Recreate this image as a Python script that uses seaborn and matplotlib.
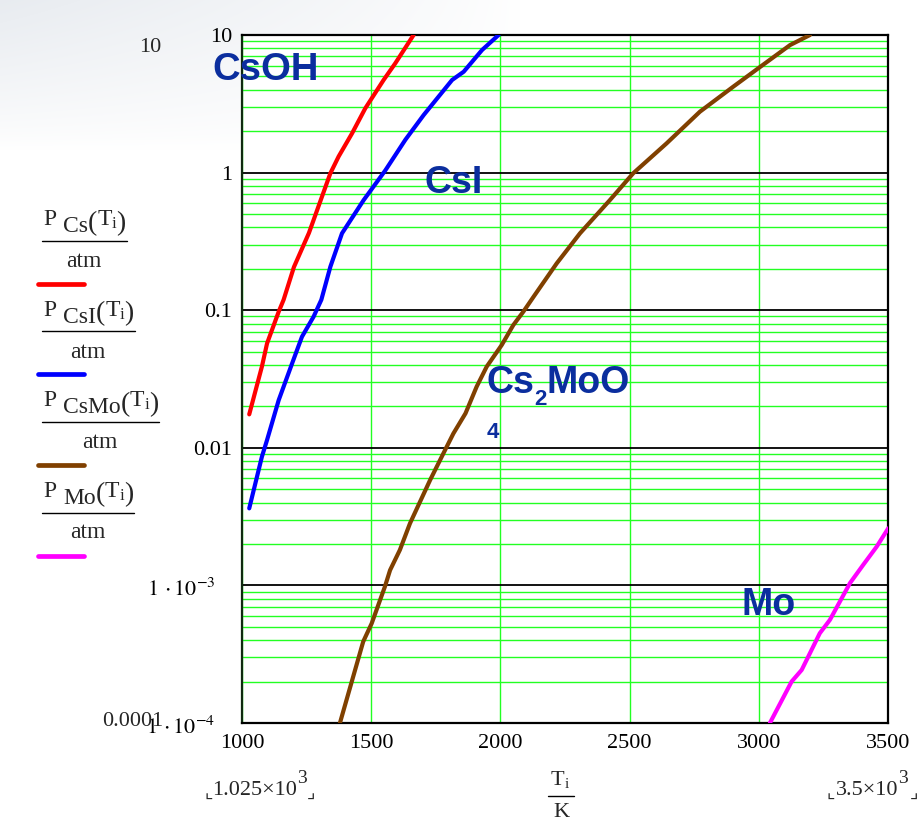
import numpy as np
import pandas as pd
import matplotlib
matplotlib.use("Agg")
import matplotlib.pyplot as plt
from matplotlib.ticker import LogLocator, FixedLocator, NullFormatter
from matplotlib.lines import Line2D
from matplotlib.transforms import ScaledTranslation
import seaborn as sns

# ---------------- data ----------------
T_CS = [1028, 1077, 1097, 1142, 1161, 1201, 1259, 1342, 1374, 1426, 1477, 1548, 1593, 1664]
P_CS = [0.0175, 0.0389, 0.0574, 0.0975, 0.119, 0.206, 0.364, 0.989, 1.31, 1.93, 2.93, 4.71, 6.22, 10.0]

T_CSI = [1028, 1077, 1097, 1142, 1194, 1232, 1277, 1307, 1342, 1387, 1471, 1555, 1632, 1703, 1813, 1858, 1929, 1993]
P_CSI = [0.00363, 0.00861, 0.0114, 0.0222, 0.0411, 0.0641, 0.0897, 0.119, 0.207, 0.362, 0.632, 1.04, 1.73, 2.62, 4.71, 5.41, 7.78, 10.0]

T_CSMO = [1379, 1469, 1502, 1553, 1573, 1611, 1650, 1728, 1786, 1818, 1865, 1908, 1947, 2005, 2050, 2089,
          2128, 2218, 2308, 2424, 2514, 2643, 2772, 2901, 2998, 3121, 3198]
P_CSMO = [1.0e-4, 3.90e-4, 5.30e-4, 9.79e-4, 1.29e-3, 1.81e-3, 2.82e-3, 5.83e-3, 9.64e-3, 0.0127, 0.0178,
          0.0278, 0.0389, 0.0558, 0.0780, 0.0977, 0.125, 0.219, 0.362, 0.632, 0.989, 1.63, 2.77, 4.21,
          5.73, 8.45, 10.0]

T_MO = [3043, 3127, 3166, 3236, 3275, 3353, 3404, 3456, 3501]
P_MO = [1.0e-4, 2.0e-4, 2.43e-4, 4.49e-4, 5.61e-4, 1.04e-3, 1.41e-3, 1.91e-3, 2.60e-3]

SERIES = ["Cs", "CsI", "CsMo", "Mo"]
COLORS = {"Cs": "#ff0000", "CsI": "#0000ff", "CsMo": "#804000", "Mo": "#ff00ff"}

X_TICKS = [1000, 1500, 2000, 2500, 3000, 3500]
X_TICK_LABELS = ["1000", "1500", "2000", "2500", "3000", "3500"]
Y_TICKS = [1e-4, 1e-3, 1e-2, 1e-1, 1, 10]
Y_TICK_LABELS = [r"$1\,\cdot 10^{-4}$", r"$1\,\cdot 10^{-3}$", "0.01", "0.1", "1", "10"]

# ---------------- styling ----------------
sns.set_theme(style="white")
plt.rcParams["font.family"] = ["Liberation Serif", "DejaVu Sans"]
plt.rcParams["mathtext.fontset"] = "stix"

W, H = 919, 822
fig = plt.figure(figsize=(W / 100, H / 100), dpi=100)
fig.patch.set_facecolor("white")

# faint slide background in the top-left corner
bg = fig.add_axes([0, 0, 1, 1], zorder=-10)
bg.axis("off")
yy, xx = np.mgrid[0:H, 0:W]
f = np.clip(1 - xx / 520.0, 0, 1) * np.clip(1 - yy / 150.0, 0, 1)
f = f ** 0.8 * 0.9
img = np.ones((H, W, 3))
base = np.array([0.90, 0.915, 0.935])
img = img * (1 - f[..., None]) + base * f[..., None]
bg.imshow(img, aspect="auto", extent=[0, 1, 0, 1], origin="upper")
bg.set_xlim(0, 1)
bg.set_ylim(0, 1)

def fx(x):
    return x / W

def fy(y):
    return 1 - y / H

ax = fig.add_axes([fx(242), fy(723), 646 / W, 688 / H])
ax.set_facecolor("white")

frames = []
for name, t, p in [("Cs", T_CS, P_CS), ("CsI", T_CSI, P_CSI), ("CsMo", T_CSMO, P_CSMO), ("Mo", T_MO, P_MO)]:
    frames.append(pd.DataFrame({"T": t, "P": p, "series": name}))
df = pd.concat(frames, ignore_index=True)

ax.set_yscale("log")
sns.lineplot(data=df, x="T", y="P", hue="series", hue_order=SERIES, palette=COLORS,
             linewidth=3.0, legend=False, ax=ax, sort=False, estimator=None, zorder=5)

ax.set_xlim(1000, 3500)
ax.set_ylim(1e-4, 10)

ax.xaxis.set_major_locator(FixedLocator(X_TICKS))
ax.set_xticklabels(X_TICK_LABELS)
ax.yaxis.set_major_locator(FixedLocator(Y_TICKS))
ax.set_yticklabels(Y_TICK_LABELS)
ax.yaxis.set_minor_locator(LogLocator(base=10, subs=np.arange(2, 10), numticks=50))
ax.yaxis.set_minor_formatter(NullFormatter())

ax.grid(which="minor", axis="y", color="#22ff22", linewidth=1.0, zorder=1)
ax.grid(which="major", axis="y", color="black", linewidth=1.3, zorder=2)
ax.grid(which="major", axis="x", color="#22ff22", linewidth=1.0, zorder=1)
ax.set_axisbelow(True)

ax.tick_params(which="both", length=0)
ax.tick_params(axis="x", labelsize=16, pad=8, labelcolor="black")
ax.tick_params(axis="y", labelsize=16, pad=7, labelcolor="black")
ax.set_xlabel("")
ax.set_ylabel("")
for s in ax.spines.values():
    s.set_color("black")
    s.set_linewidth(1.6)
    s.set_visible(True)
ax.spines["left"].set_color("#102a10")

# shift the exponent-style tick labels like the reference
for lab, val in zip(ax.get_yticklabels(), Y_TICKS):
    if val < 5e-3:
        lab.set_transform(lab.get_transform() + ScaledTranslation(-0.17, -0.02, fig.dpi_scale_trans))

renderer = fig.canvas.get_renderer()

def chain(x, y, pieces, **common):
    """pieces: (text, size, dy) placed left to right from pixel x, baseline y."""
    for s, size, dy in pieces:
        t = fig.text(fx(x), fy(y + dy), s, fontsize=size, ha="left", va="baseline", **common)
        bb = t.get_window_extent(renderer)
        x += bb.width
    return x

# extra y labels (Mathcad limits)
fig.text(fx(150), fy(48), "10", fontsize=16, ha="center", va="center")
fig.text(fx(163), fy(721), "0.0001", fontsize=16, ha="right", va="center")

# x-axis limits and label
chain(204, 795, [("\u231e", 13, 3), ("1.025\u00d710", 16, 0), ("3", 14, -12), ("\u231f", 13, 3)])
chain(827, 795, [("\u231e", 13, 3), ("3.5\u00d710", 16, 0), ("3", 14, -12)])
fig.text(fx(918), fy(798), "\u231f", fontsize=13, ha="right", va="baseline")
chain(551, 785, [("T", 16, 0), ("i", 11, 3)])
fig.add_artist(Line2D([fx(548), fx(574)], [fy(796), fy(796)], color="black", lw=1.0))
fig.text(fx(561), fy(817), "K", fontsize=16, ha="center", va="baseline")

# left legend (Mathcad style)
LEG_SUBS = ["Cs", "CsI", "CsMo", "Mo"]
for i, (sub, name) in enumerate(zip(LEG_SUBS, SERIES)):
    yb = 225 + i * 90.5
    x = chain(43, yb, [("P", 17, 0)])
    x = chain(x + 7, yb, [(sub, 17, 7), ("(", 20, 5), ("T", 17, 0), ("i", 12, 3), (")", 20, 5)])
    bar_y = yb + 16
    fig.add_artist(Line2D([fx(42), fx(x + 1)], [fy(bar_y), fy(bar_y)], color="black", lw=1.0))
    fig.text(fx((42 + x) / 2), fy(bar_y + 26), "atm", fontsize=17, ha="center", va="baseline")
    fig.add_artist(Line2D([fx(38), fx(84)], [fy(bar_y + 43), fy(bar_y + 43)],
                          color=COLORS[name], lw=3.4, solid_capstyle="round"))

# curve labels
LBL = dict(color="#0b2e9e", fontweight="bold", family="Liberation Sans")
fig.text(fx(212), fy(80), "CsOH", fontsize=27.5, ha="left", va="baseline", **LBL)
fig.text(fx(424), fy(193), "CsI", fontsize=27, ha="left", va="baseline", **LBL)
chain(486, 393, [("Cs", 27, 0), ("2", 16, 12), ("MoO", 27, 0)], **LBL)
fig.text(fx(487), fy(438), "4", fontsize=16, ha="left", va="baseline", **LBL)
fig.text(fx(742), fy(615), "Mo", fontsize=27, ha="left", va="baseline", **LBL)

fig.savefig("out.png", dpi=100)
